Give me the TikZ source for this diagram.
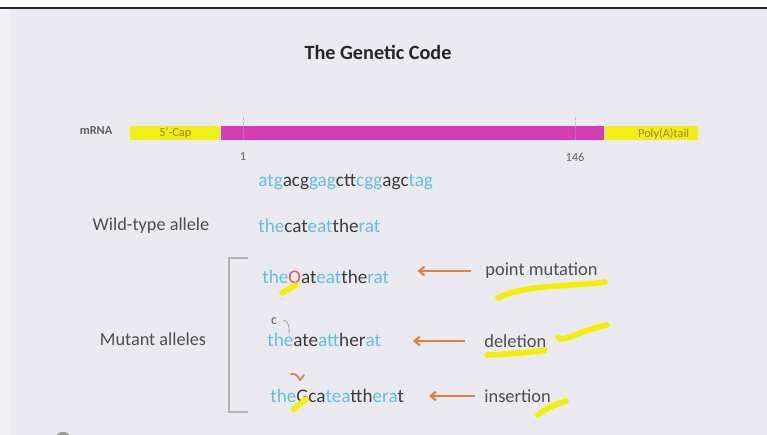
\documentclass[tikz,border=0pt]{standalone}
\usepackage{fontspec}
\setmainfont{Carlito}
\usetikzlibrary{arrows.meta,positioning,calc}

\definecolor{slidebg}{HTML}{EBEAF0}
\definecolor{codonblue}{HTML}{5EC0E2}
\definecolor{codondark}{HTML}{3A3A3A}
\definecolor{capyellow}{HTML}{F0F014}
\definecolor{captext}{HTML}{A08418}
\definecolor{mrnapink}{HTML}{D43CB8}
\definecolor{arrorange}{HTML}{E2803E}
\definecolor{hiyellow}{HTML}{F2F000}
\definecolor{pointred}{HTML}{E8505E}

\newcommand{\bl}[1]{\textcolor{codonblue}{#1}}
\newcommand{\dk}[1]{\textcolor{codondark}{#1}}

\begin{document}
\begin{tikzpicture}[x=0.02cm,y=-0.02cm,
  lbl/.style={font=\fontsize{10.4}{12}\selectfont, text=codondark!90, inner sep=0pt},
  seq/.style={font=\fontsize{10.9}{12}\selectfont, inner sep=0pt, anchor=west},
  capbox/.style={fill=capyellow, text=captext, font=\fontsize{7}{8}\selectfont,
    minimum height=0.28cm, inner sep=0pt, anchor=west},
  arr/.style={draw=arrorange, line width=1.2pt, -{Straight Barb[length=3pt,width=5pt]}},
  hilite/.style={draw=hiyellow, line width=3.2pt, line cap=round}]

\useasboundingbox (0,0) rectangle (767,435);
\fill[slidebg] (0,0) rectangle (767,435);
\fill[white!25!slidebg] (0,9) rectangle (10,435);
\fill[white] (0,0) rectangle (767,7);
\fill[black!85] (0,7) rectangle (767,9);

% Title
\node[font=\fontsize{11.5}{14}\selectfont\bfseries, text=black!85] (title) at (378,52) {The Genetic Code};

% mRNA bar
\node[font=\fontsize{7}{8}\selectfont\bfseries, text=codondark!80] (mrna) at (96,131) {mRNA};
\node[capbox, minimum width=1.8cm] (cap) at (130,133) {5'-Cap};
\node[capbox, fill=mrnapink, minimum width=7.66cm, right=0pt of cap] (body) {};
\node[capbox, minimum width=1.86cm, right=0pt of body, text depth=0pt] (tail) {\hspace{0.5cm}Poly(A)tail};
\draw[gray!70, densely dotted] (243,117) -- (243,140);
\draw[gray!70, densely dotted] (575,117) -- (575,140);
\node[font=\fontsize{7}{8}\selectfont, text=codondark!80] (start) at (243,157) {1};
\node[font=\fontsize{7}{8}\selectfont, text=codondark!80] (stop) at (575,157) {146};

% Codons
\node[seq] (codons) at (258,182) {\bl{atg}\dk{acg}\bl{gag}\dk{ctt}\bl{cgg}\dk{agc}\bl{tag}};

% Wild type
\node[lbl] (wtlabel) at (151,226) {Wild-type allele};
\node[seq] (wt) at (258,226) {\bl{the}\dk{cat}\bl{eat}\dk{the}\bl{rat}};

% Mutants
\node[lbl] (mutlabel) at (153,339) {Mutant alleles};
\draw[gray!60, line width=0.8pt] (248,258) -- (229,258) -- (229,412) -- (248,412);

\node[seq] (mut1) at (262,277) {\bl{the}\textcolor{pointred}{O}\dk{at}\bl{eat}\dk{the}\bl{rat}};
\node[seq] (mut2) at (267,340) {\bl{the}\dk{ate}\bl{att}\dk{her}\bl{at}};
\node[seq] (mut3) at (270,396) {\bl{the}\dk{Gca}\bl{tea}\dk{tth}\bl{era}\dk{t}};

\node[lbl, anchor=west, font=\fontsize{10.5}{12}\selectfont] (point) at (485,271) {point mutation};
\node[lbl, anchor=west, font=\fontsize{10.5}{12}\selectfont] (del) at (484,341) {deletion};
\node[lbl, anchor=west, font=\fontsize{10.5}{12}\selectfont] (ins) at (484,396) {insertion};

\draw[arr, shorten <=8pt, shorten >=16pt] (point.west) -- (mut1.east |- point.west);
\draw[arr, shorten <=11pt, shorten >=18pt] (del.west) -- (mut2.east |- del.west);
\draw[arr, shorten <=5pt, shorten >=14pt] (ins.west) -- (mut3.east |- ins.west);

% handwritten marks
\node[font=\fontsize{8}{9}\selectfont, text=codondark!80] (cmark) at (274,321) {c};
\draw[gray!70, line width=0.5pt] (cmark.east) .. controls (286,318) and (290,325) .. (289,333);
\draw[arrorange, line width=1pt, line cap=round] (291,374) .. controls (296,374) .. (300,380) -- (304,375);
\draw[hilite] (282,293) -- (296,285);
\draw[hilite] (294,409) -- (306,399);
\draw[hilite] (498,298) .. controls (525,284) and (570,287) .. (605,282);
\draw[hilite] (487,355) .. controls (505,354) and (530,353) .. (545,350);
\draw[hilite] (558,337) .. controls (562,344) and (580,330) .. (607,325);
\draw[hilite] (538,415) .. controls (546,408) and (556,404) .. (566,401);

% pointer
\fill[gray!80] (63,435) ellipse (6 and 3);

\end{tikzpicture}
\end{document}
